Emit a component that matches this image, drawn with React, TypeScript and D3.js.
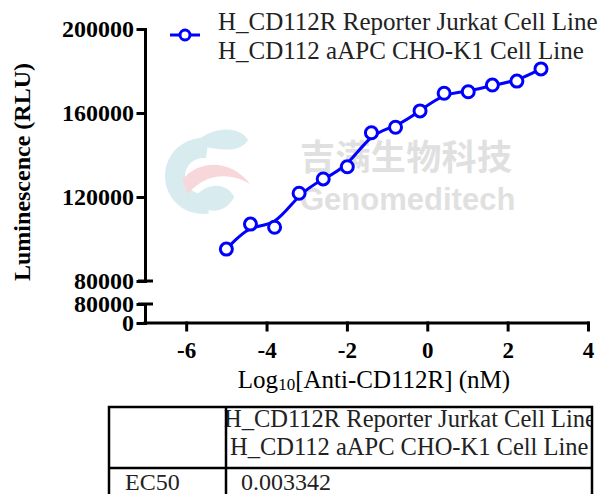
import React, { useRef, useEffect } from 'react';
import * as d3 from 'd3';

// log10 concentration (nM), 4-fold dilutions
const logConc = [-5.0, -4.4, -3.8, -3.19, -2.59, -1.99, -1.39, -0.79, -0.18, 0.42, 1.02, 1.62, 2.23, 2.83];
// luminescence (RLU)
const rlu = [95200, 107100, 105600, 121800, 128600, 134400, 150600, 153200, 161000, 169400, 170100, 173300, 175200, 181000];

const xTicks = [-6, -4, -2, 0, 2, 4];
const yTicksUpper = [80000, 120000, 160000, 200000];
const yTicksLower = [0, 80000];

const legendLines = ['H_CD112R Reporter Jurkat Cell Line', 'H_CD112 aAPC CHO-K1 Cell Line'];
const tableRowLabel = 'EC50';
const tableValue = '0.003342';

const BLUE = '#0000ff';
const SERIF = '"Liberation Serif", "Times New Roman", serif';

const App = () => {
  const ref = useRef<SVGSVGElement | null>(null);

  useEffect(() => {
    if (!ref.current) return;
    const svg = d3.select(ref.current);
    svg.selectAll('*').remove();

    const axisX = 145;
    const x = d3.scaleLinear().domain([-7, 4]).range([146, 588]);
    const yUp = d3.scaleLinear().domain([80000, 200000]).range([281, 29]);
    const yLow = d3.scaleLinear().domain([0, 80000]).range([323, 304]);

    // watermark
    const wm = svg.append('g').attr('opacity', 0.55);
    wm.append('path')
      .attr('transform', 'translate(203,176)')
      .attr('d', d3.arc()({ innerRadius: 18, outerRadius: 38, startAngle: Math.PI * 0.95, endAngle: Math.PI * 2.05 }) as string)
      .attr('fill', '#b9dde4');
    wm.append('path')
      .attr('d', 'M198,140 C215,126 240,126 248,140 C240,153 222,150 205,147 Z')
      .attr('fill', '#b9dde4');
    wm.append('path')
      .attr('d', 'M182,180 C200,158 232,160 250,184 C230,172 205,173 188,194 Z')
      .attr('fill', '#f2b8bc');
    wm.append('path')
      .attr('d', 'M194,198 C210,178 230,186 234,197 C226,214 204,216 194,198 Z')
      .attr('fill', '#b9dde4');
    wm.append('text')
      .attr('x', 300).attr('y', 170)
      .attr('font-family', '"Noto Sans CJK SC", sans-serif')
      .attr('font-weight', 'bold')
      .attr('font-size', 35)
      .attr('fill', '#c8c8c8')
      .attr('textLength', 212)
      .text('吉满生物科技');
    wm.append('text')
      .attr('x', 300).attr('y', 210)
      .attr('font-family', '"Liberation Sans", Arial, sans-serif')
      .attr('font-weight', 'bold')
      .attr('font-size', 31)
      .attr('fill', '#c8c8c8')
      .text('Genomeditech');

    const fmt = (d: any) => String(d); // plain hyphen minus, no commas

    // y axis upper segment
    const gUp = svg.append('g')
      .attr('transform', `translate(${axisX},0)`)
      .call(d3.axisLeft(yUp).tickValues(yTicksUpper).tickSize(7).tickSizeOuter(0).tickPadding(4).tickFormat(fmt));
    // y axis lower segment
    const gLow = svg.append('g')
      .attr('transform', `translate(${axisX},0)`)
      .call(d3.axisLeft(yLow).tickValues(yTicksLower).tickSize(7).tickSizeOuter(0).tickPadding(4).tickFormat(fmt));
    // x axis
    const gX = svg.append('g')
      .attr('transform', `translate(0,${yLow(0)})`)
      .call(d3.axisBottom(x).tickValues(xTicks).tickSize(7).tickSizeOuter(0).tickPadding(12).tickFormat(fmt));

    [gUp, gLow, gX].forEach(g => {
      g.attr('font-family', SERIF);
      g.selectAll('path, line').attr('stroke', '#000').attr('stroke-width', 3).attr('stroke-linecap', 'square');
      g.selectAll('text')
        .attr('fill', '#000')
        .attr('font-family', SERIF)
        .attr('font-weight', 'bold')
        .attr('font-size', 24);
    });
    gX.selectAll('text').attr('font-size', 23);
    gX.select('.domain').attr('d', `M${axisX},0H${x(4)}`);

    // break caps
    svg.append('line')
      .attr('x1', axisX - 7).attr('x2', axisX + 8)
      .attr('y1', yUp(80000)).attr('y2', yUp(80000))
      .attr('stroke', '#000').attr('stroke-width', 3);
    svg.append('line')
      .attr('x1', axisX - 7).attr('x2', axisX + 8)
      .attr('y1', yLow(80000)).attr('y2', yLow(80000))
      .attr('stroke', '#000').attr('stroke-width', 3);

    // axis titles
    svg.append('text')
      .attr('transform', `translate(30,${(yUp(200000) + yLow(0)) / 2 - 4}) rotate(-90)`)
      .attr('text-anchor', 'middle')
      .attr('font-family', SERIF)
      .attr('font-weight', 'bold')
      .attr('font-size', 24)
      .text('Luminescence (RLU)');

    const xl = svg.append('text')
      .attr('x', 374).attr('y', 388)
      .attr('text-anchor', 'middle')
      .attr('font-family', SERIF)
      .attr('font-size', 25);
    xl.append('tspan').text('Log');
    xl.append('tspan').attr('font-size', 17).attr('dy', 2).text('10');
    xl.append('tspan').attr('dy', -2).text('[Anti-CD112R] (nM)');

    // data
    const pts: [number, number][] = logConc.map((c, i) => [x(c), yUp(rlu[i])]);
    svg.append('path')
      .datum(pts)
      .attr('fill', 'none')
      .attr('stroke', BLUE)
      .attr('stroke-width', 3)
      .attr('d', d3.line().curve(d3.curveBasis));

    svg.append('g')
      .selectAll('circle')
      .data(pts)
      .join('circle')
      .attr('cx', d => d[0])
      .attr('cy', d => d[1])
      .attr('r', 6)
      .attr('fill', '#fff')
      .attr('stroke', BLUE)
      .attr('stroke-width', 3);

    // legend
    const lg = svg.append('g');
    lg.append('line').attr('x1', 170).attr('x2', 200).attr('y1', 35).attr('y2', 35)
      .attr('stroke', BLUE).attr('stroke-width', 3);
    lg.append('circle').attr('cx', 185).attr('cy', 35).attr('r', 5)
      .attr('fill', '#fff').attr('stroke', BLUE).attr('stroke-width', 3);
    lg.selectAll('text.leg')
      .data(legendLines)
      .join('text')
      .attr('class', 'leg')
      .attr('x', 218)
      .attr('y', (_, i) => 30 + i * 29)
      .attr('font-family', SERIF)
      .attr('font-size', 25)
      .attr('fill', '#222')
      .text(d => d);

    // EC50 table
    const tL = 109, tR = 592, tT = 407, tMid = 468, colX = 226;
    const defs = svg.append('defs');
    defs.append('clipPath').attr('id', 'hdrclip')
      .append('rect').attr('x', colX - 4).attr('y', tT).attr('width', tR - colX + 4).attr('height', tMid - tT);
    const tb = svg.append('g');
    const hdr = tb.append('g').attr('clip-path', 'url(#hdrclip)');
    hdr.selectAll('text')
      .data(legendLines)
      .join('text')
      .attr('x', (_, i) => (i === 0 ? 224 : 230))
      .attr('y', (_, i) => 427 + i * 28)
      .attr('font-family', SERIF)
      .attr('font-size', 24.5)
      .attr('fill', '#222')
      .text(d => d);
    tb.append('path')
      .attr('d', `M${tL},500V${tT}H${tR}V500 M${tL},${tMid}H${tR} M${colX},${tT}V500`)
      .attr('fill', 'none').attr('stroke', '#000').attr('stroke-width', 2.5);
    tb.append('text').attr('x', 125).attr('y', 490)
      .attr('font-family', SERIF).attr('font-size', 24).attr('fill', '#222')
      .text(tableRowLabel);
    tb.append('text').attr('x', 241).attr('y', 490)
      .attr('font-family', SERIF).attr('font-size', 24).attr('fill', '#222')
      .text(tableValue);
  }, []);

  return (
    <svg
      ref={ref}
      width={605}
      height={494}
      style={{ position: 'fixed', left: 0, top: 0, background: '#fff' }}
    />
  );
};

export default App;
